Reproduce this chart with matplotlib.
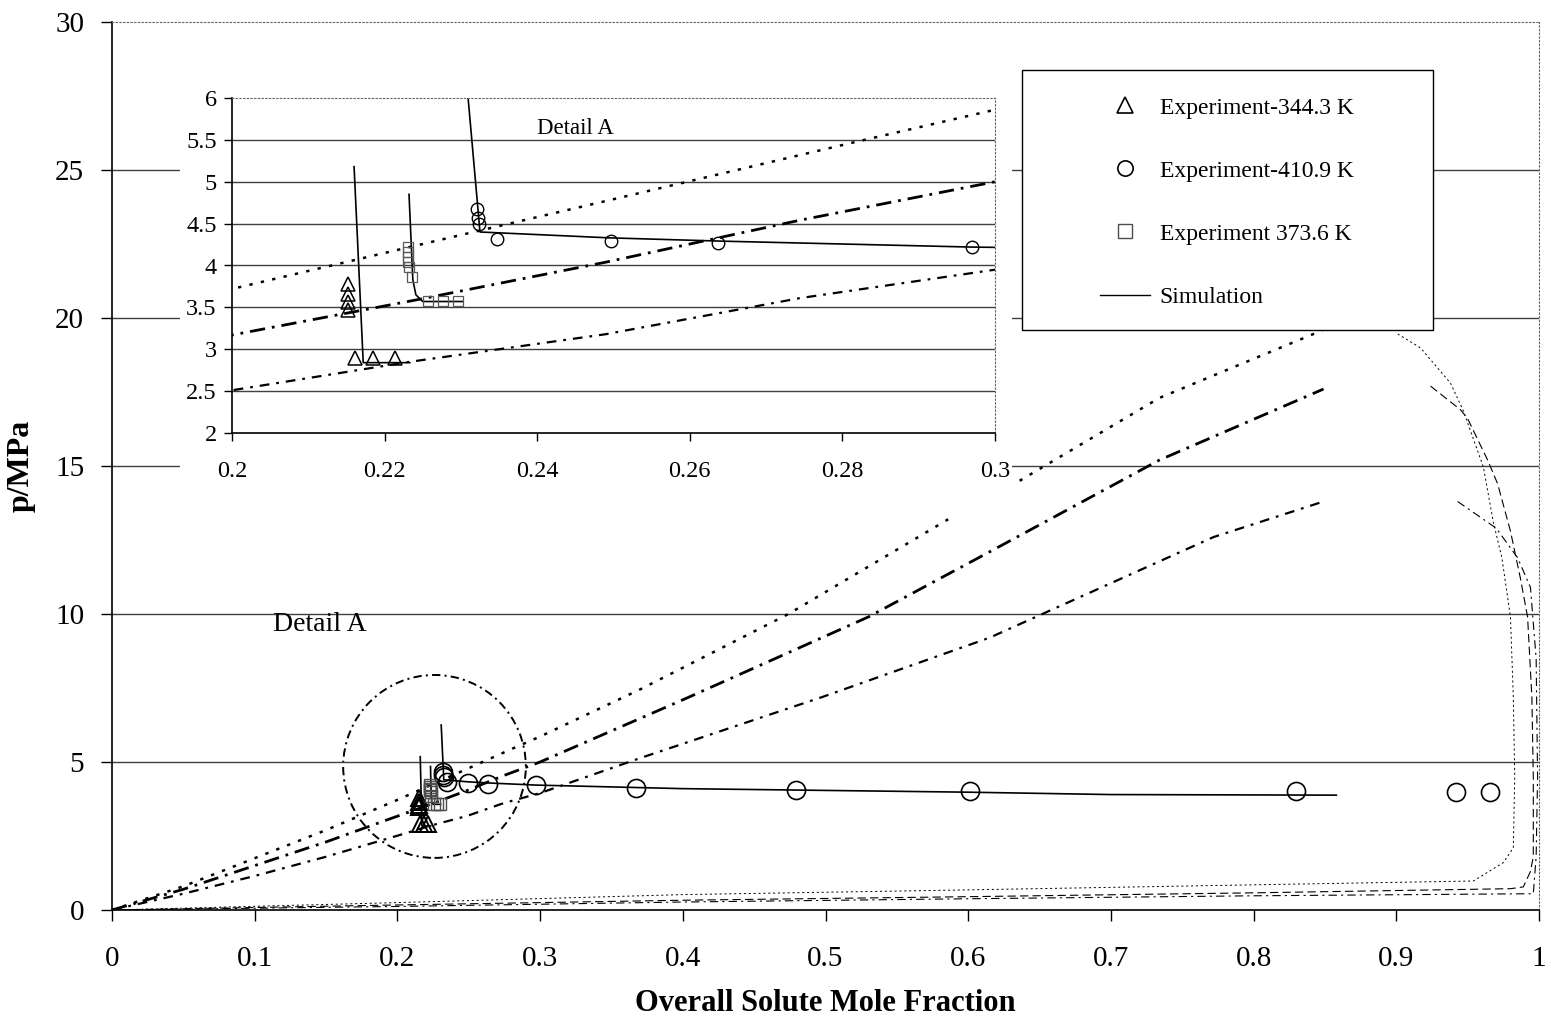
import numpy as np
import matplotlib
matplotlib.use("Agg")
import matplotlib.pyplot as plt
from matplotlib.patches import Rectangle, Ellipse
from matplotlib.lines import Line2D

plt.rcParams["font.family"] = ["Liberation Serif", "DejaVu Serif"]
plt.rcParams["lines.scale_dashes"] = False

# experiments
tri_x = [0.2152, 0.2152, 0.2152, 0.2152, 0.2161, 0.2185, 0.2214]
tri_y = [3.78, 3.66, 3.56, 3.47, 2.90, 2.90, 2.90]
circ_x = [0.2321, 0.2322, 0.2324, 0.2347, 0.2497, 0.2637, 0.297, 0.367, 0.479, 0.601, 0.830, 0.942, 0.966]
circ_y = [4.67, 4.57, 4.50, 4.32, 4.29, 4.27, 4.22, 4.12, 4.05, 4.02, 4.02, 3.99, 3.99]
sq_x = [0.2231, 0.2231, 0.2231, 0.2231, 0.2232, 0.2236, 0.2257, 0.2277, 0.2296]
sq_y = [4.22, 4.16, 4.10, 4.04, 3.98, 3.86, 3.58, 3.58, 3.58]

# simulation (solid)
sim344_x = [0.2160, 0.2172, 0.2233]
sim344_y = [5.18, 2.84, 2.84]
sim374_x = [0.2232, 0.2237, 0.2241, 0.2250, 0.2303]
sim374_y = [4.85, 3.83, 3.65, 3.57, 3.57]
sim411_x = [0.2307, 0.2325, 0.2495, 0.2645, 0.297, 0.4, 0.5, 0.6, 0.7, 0.858]
sim411_y = [6.25, 4.40, 4.33, 4.29, 4.22, 4.10, 4.04, 3.98, 3.90, 3.88]

# envelope branches rising from origin (thick)
upA_x = [0, 0.05, 0.1, 0.15, 0.2, 0.2312, 0.249, 0.281, 0.3, 0.37, 0.474, 0.586, np.nan, 0.636, 0.734, 0.844, 0.855]
upA_y = [0, 0.8, 1.75, 2.7, 3.72, 4.39, 4.77, 5.46, 5.86, 7.45, 10.0, 13.2, np.nan, 14.5, 17.3, 19.5, 19.75]
upB_x = [0, 0.05, 0.1, 0.15, 0.2, 0.2242, 0.249, 0.2744, 0.3, 0.4, 0.53, 0.615, 0.734, 0.849]
upB_y = [0, 0.7, 1.5, 2.3, 3.17, 3.59, 4.04, 4.54, 5.0, 7.1, 9.9, 12.1, 15.2, 17.6]
upC_x = [0, 0.05, 0.1, 0.15, 0.2, 0.2233, 0.249, 0.2744, 0.3, 0.37, 0.498, 0.615, 0.772, 0.849]
upC_y = [0, 0.55, 1.15, 1.8, 2.51, 2.85, 3.18, 3.61, 3.95, 5.13, 7.2, 9.2, 12.6, 13.8]

# right-hand branches and the low-pressure return (thin)
rA_x = [0.901, 0.917, 0.938, 0.947, 0.961, 0.968, 0.974, 0.980, 0.982, 0.983, 0.982, 0.975, 0.954, 0.8, 0.6, 0.4, 0.2, 0]
rA_y = [19.46, 18.99, 17.8, 16.86, 14.97, 13.1, 11.9, 9.9, 7.2, 4.5, 2.1, 1.6, 0.98, 0.85, 0.68, 0.52, 0.25, 0]
rB_x = [0.924, 0.945, 0.950, 0.964, 0.971, 0.980, 0.987, 0.992, 0.995, 0.996, 0.996, 0.994, 0.989, 0.98, 0.8, 0.6, 0.4, 0.2, 0]
rB_y = [17.7, 16.9, 16.6, 15.2, 14.4, 12.8, 11.2, 9.9, 7.2, 4.5, 1.8, 1.3, 0.78, 0.72, 0.58, 0.45, 0.33, 0.17, 0]
rC_x = [0.943, 0.970, 0.985, 0.994, 0.998, 0.999, 0.998, 0.996, 0.8, 0.6, 0.4, 0.2, 0]
rC_y = [13.8, 12.9, 11.9, 10.9, 8.5, 4.5, 1.8, 0.55, 0.48, 0.38, 0.27, 0.12, 0]

main_xticks = [0, 0.1, 0.2, 0.3, 0.4, 0.5, 0.6, 0.7, 0.8, 0.9, 1]
main_xlabels = ["0", "0.1", "0.2", "0.3", "0.4", "0.5", "0.6", "0.7", "0.8", "0.9", "1"]
main_yticks = [0, 5, 10, 15, 20, 25, 30]
ins_xticks = [0.2, 0.22, 0.24, 0.26, 0.28, 0.3]
ins_xlabels = ["0.2", "0.22", "0.24", "0.26", "0.28", "0.3"]
ins_yticks = [2, 2.5, 3, 3.5, 4, 4.5, 5, 5.5, 6]
ins_ylabels = ["2", "2.5", "3", "3.5", "4", "4.5", "5", "5.5", "6"]

legend_labels = ["Experiment-344.3 K", "Experiment-410.9 K", "Experiment 373.6 K", "Simulation"]

W, H = 1551, 1021
fig = plt.figure(figsize=(W / 100, H / 100), dpi=100)
ax = fig.add_axes([112 / W, 1 - 910 / H, 1427 / W, 888 / H])

dotA = (0, (2.4, 6.0))
dashB = (0, (11, 5, 2, 5))
dashC = (0, (7, 5, 2, 5))


def draw_envelope(a, lw):
    a.plot(upA_x, upA_y, color="k", lw=lw + 0.2, ls=dotA)
    a.plot(upB_x, upB_y, color="k", lw=lw + 0.4, ls=dashB)
    a.plot(upC_x, upC_y, color="k", lw=lw, ls=dashC)


draw_envelope(ax, 1.6)
ax.plot(rA_x, rA_y, color="k", lw=0.7, ls=(0, (1.5, 2)))
ax.plot(rB_x, rB_y, color="k", lw=0.8, ls=(0, (6, 3)))
ax.plot(rC_x, rC_y, color="k", lw=0.8, ls=(0, (6, 3, 1.5, 3)))

for sx, sy in [(sim344_x, sim344_y), (sim374_x, sim374_y), (sim411_x, sim411_y)]:
    ax.plot(sx, sy, color="k", lw=1.2)
ax.plot(tri_x, tri_y, ls="none", marker="^", ms=12, mfc="none", mec="k", mew=1.4)
ax.plot(circ_x, circ_y, ls="none", marker="o", ms=13, mfc="none", mec="k", mew=1.2)
ax.plot(sq_x, sq_y, ls="none", marker="s", ms=9, mfc="none", mec="0.3", mew=1.0)

ax.add_patch(Ellipse((0.226, 4.85), 0.128, 6.18, fill=False, ec="k", lw=1.4, ls=(0, (6, 3, 1.5, 3))))
ax.text(0.113, 9.63, "Detail A", fontsize=20, va="center", ha="left")

ax.set_xlim(0, 1)
ax.set_ylim(0, 30)
ax.set_xticks(main_xticks)
ax.set_xticklabels(main_xlabels)
ax.set_yticks(main_yticks)
ax.tick_params(direction="out", length=8, width=1, labelsize=21)
ax.tick_params(axis="x", pad=18)
ax.tick_params(axis="y", pad=12)
ax.yaxis.grid(True, color="0.25", lw=1.0)
ax.get_ygridlines()[-1].set_visible(False)
ax.get_ygridlines()[0].set_visible(False)
ax.set_xlabel("Overall Solute Mole Fraction", fontsize=22, fontweight="bold", labelpad=12)
ax.set_ylabel("p/MPa", fontsize=23, fontweight="bold", labelpad=14)
for s in ["top", "right"]:
    ax.spines[s].set_linestyle(":")
    ax.spines[s].set_color("0.4")
ax.spines["left"].set_linewidth(1.2)
ax.spines["bottom"].set_linewidth(1.2)

# white chart area behind the inset
ax.add_patch(Rectangle((180 / W, 1 - 492 / H), (1012 - 180) / W, (492 - 82) / H,
                       transform=fig.transFigure, fc="white", ec="none", zorder=20, clip_on=False))

# legend box
ax.add_patch(Rectangle(((1022 - 112) / 1427, (910 - 330) / 888), (1433 - 1022) / 1427, (330 - 70) / 888,
                       transform=ax.transAxes, fc="white", ec="k", lw=1.0, zorder=20, clip_on=False))
handles = [
    Line2D([], [], ls="none", marker="^", ms=11, mfc="none", mec="k", mew=1.2),
    Line2D([], [], ls="none", marker="o", ms=11, mfc="none", mec="k", mew=1.2),
    Line2D([], [], ls="none", marker="s", ms=10, mfc="none", mec="0.3", mew=1.0),
    Line2D([], [], color="k", lw=1.0),
]
leg = ax.legend(handles, legend_labels, loc="upper left",
                bbox_to_anchor=((1100 - 112) / 1427, (910 - 97) / 888),
                frameon=False, fontsize=17, labelspacing=1.76, handlelength=2.1,
                handletextpad=0.42, borderpad=0, borderaxespad=0)
leg.set_zorder(21)

# inset
ins = fig.add_axes([232 / W, 1 - 433 / H, (995 - 232) / W, (433 - 98) / H])
draw_envelope(ins, 1.6)
for sx, sy in [(sim344_x, sim344_y), (sim374_x, sim374_y), (sim411_x, sim411_y)]:
    ins.plot(sx, sy, color="k", lw=1.2)
ins.plot(tri_x, tri_y, ls="none", marker="^", ms=9.5, mfc="none", mec="k", mew=1.1)
ins.plot(circ_x, circ_y, ls="none", marker="o", ms=9, mfc="none", mec="k", mew=1.0)
ins.plot(sq_x, sq_y, ls="none", marker="s", ms=7.5, mfc="none", mec="0.35", mew=0.9)
ins.text(0.24, 5.64, "Detail A", fontsize=16.5, va="center", ha="left")
ins.set_xlim(0.2, 0.3)
ins.set_ylim(2, 6)
ins.set_xticks(ins_xticks)
ins.set_xticklabels(ins_xlabels)
ins.set_yticks(ins_yticks)
ins.set_yticklabels(ins_ylabels)
ins.tick_params(direction="out", length=6, width=1, labelsize=17.5)
ins.tick_params(axis="x", pad=14)
ins.tick_params(axis="y", pad=5)
ins.yaxis.grid(True, color="0.25", lw=1.0)
ins.get_ygridlines()[-1].set_visible(False)
ins.get_ygridlines()[0].set_visible(False)
for s in ["top", "right"]:
    ins.spines[s].set_linestyle(":")
    ins.spines[s].set_color("0.4")
ins.spines["left"].set_linewidth(1.2)
ins.spines["bottom"].set_linewidth(1.2)

fig.savefig("out.png", dpi=100)
